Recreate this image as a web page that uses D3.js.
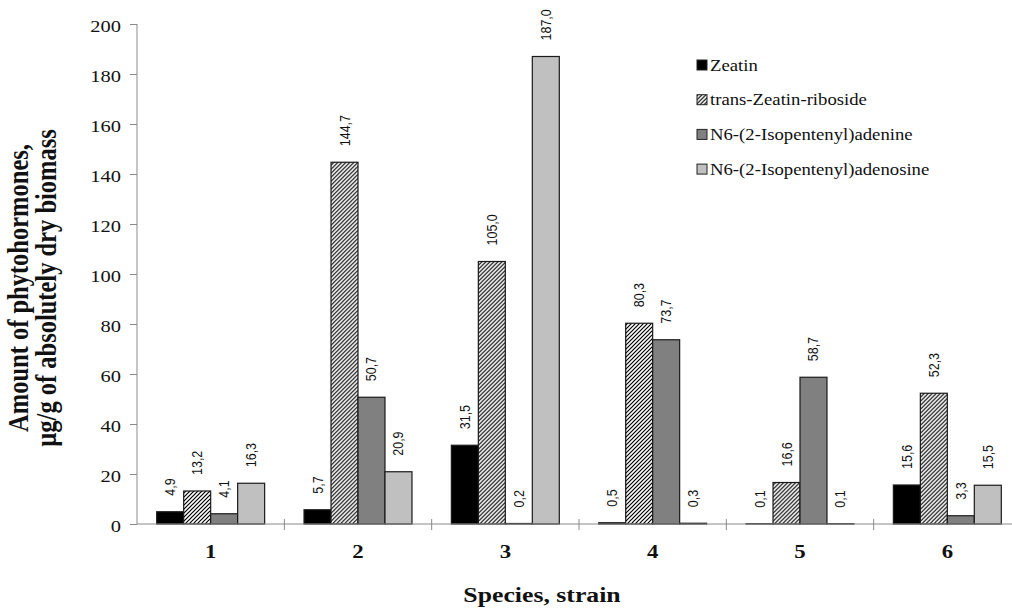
<!DOCTYPE html>
<html>
<head>
<meta charset="utf-8">
<script src="https://cdn.jsdelivr.net/npm/d3@7"></script>
<style>
  html, body { margin: 0; padding: 0; background: #fff; }
  svg { display: block; }
</style>
</head>
<body>
<svg id="chart" width="1012" height="608"></svg>
<script>
const categories = ["1", "2", "3", "4", "5", "6"];
const seriesNames = ["Zeatin", "trans-Zeatin-riboside", "N6-(2-Isopentenyl)adenine", "N6-(2-Isopentenyl)adenosine"];
const zeatin = [4.9, 5.7, 31.5, 0.5, 0.1, 15.6];
const transZeatinRiboside = [13.2, 144.7, 105.0, 80.3, 16.6, 52.3];
const isopentenylAdenine = [4.1, 50.7, 0.2, 73.7, 58.7, 3.3];
const isopentenylAdenosine = [16.3, 20.9, 187.0, 0.3, 0.1, 15.5];
const yTicks = [0, 20, 40, 60, 80, 100, 120, 140, 160, 180, 200];
const xTitle = "Species, strain";
const yTitleLines = ["Amount of phytohormones,", "\u00b5g/g of absolutely dry biomass"];

(function () {
const seriesValues = [zeatin, transZeatinRiboside, isopentenylAdenine, isopentenylAdenosine];
const fills = ["#000000", "url(#hatch)", "#808080", "#c0c0c0"];
const serif = "'Liberation Serif', 'Times New Roman', serif";
const sans = "'Liberation Sans', Arial, sans-serif";
const sx = 1.17; // horizontal stretch seen in the reference text

const svg = d3.select("#chart");
const defs = svg.append("defs");
const pat = defs.append("pattern")
  .attr("id", "hatch").attr("patternUnits", "userSpaceOnUse")
  .attr("width", 4).attr("height", 4);
pat.append("rect").attr("width", 4).attr("height", 4).attr("fill", "#fff");
pat.append("path").attr("d", "M-1,1 l2,-2 M0,4 l4,-4 M3,5 l2,-2")
  .attr("stroke", "#000").attr("stroke-width", 1.2);

const mLeft = 137, mRight = 1021, mTop = 24, mBottom = 524;
const x0 = d3.scaleBand().domain(categories).range([mLeft, mRight]).padding(0);
const x1 = d3.scaleBand().domain(d3.range(seriesNames.length))
  .range([0, x0.bandwidth()]).paddingInner(0).paddingOuter(0.73);
const y = d3.scaleLinear().domain([0, 200]).range([mBottom, mTop]);

const axisColor = "#8a8a8a";

// Y axis
const yAxis = svg.append("g").attr("transform", `translate(${mLeft},0)`)
  .call(d3.axisLeft(y).tickValues(yTicks).tickSize(7).tickPadding(8).tickFormat(d3.format("d")));
yAxis.select(".domain").attr("stroke", axisColor).attr("d", `M0,${mTop}V${mBottom}`);
yAxis.selectAll(".tick line").attr("stroke", axisColor);
yAxis.selectAll(".tick text")
  .attr("x", null).attr("dy", null)
  .attr("transform", `translate(-16,7.5) scale(${sx},1)`)
  .attr("font-family", serif)
  .attr("font-size", 17.5).attr("fill", "#111");

// Bars
const groups = svg.append("g").selectAll("g").data(categories).join("g")
  .attr("transform", d => `translate(${x0(d)},0)`);

groups.selectAll("rect")
  .data((c, ci) => seriesValues.map((vals, si) => ({ si, v: vals[ci] })))
  .join("rect")
  .attr("x", d => x1(d.si))
  .attr("width", x1.bandwidth())
  .attr("y", d => y(d.v))
  .attr("height", d => y(0) - y(d.v))
  .attr("fill", d => fills[d.si])
  .attr("stroke", "#1a1a1a").attr("stroke-width", 1.2);

const fmt = v => d3.format(".1f")(v).replace(".", ",");
groups.selectAll("text.val")
  .data((c, ci) => seriesValues.map((vals, si) => ({ si, v: vals[ci] })))
  .join("text").attr("class", "val")
  .attr("transform", d => `translate(${x1(d.si) + x1.bandwidth() / 2 + 5},${y(d.v) - 16}) scale(1.12,1) rotate(-90)`)
  .attr("text-anchor", "start")
  .attr("font-family", sans)
  .attr("font-size", 12.5).attr("fill", "#111")
  .text(d => fmt(d.v));

// X axis
const xAxisG = svg.append("g").attr("transform", `translate(0,${mBottom})`);
xAxisG.append("path").attr("d", `M${mLeft},0H${mRight}`).attr("stroke", axisColor).attr("fill", "none");
xAxisG.selectAll("line.sep").data(categories.slice(1)).join("line").attr("class", "sep")
  .attr("x1", d => x0(d)).attr("x2", d => x0(d)).attr("y1", -5).attr("y2", 6)
  .attr("stroke", axisColor);
xAxisG.selectAll("text.cat").data(categories).join("text").attr("class", "cat")
  .attr("transform", d => `translate(${x0(d) + x0.bandwidth() / 2},34) scale(${sx},1)`)
  .attr("text-anchor", "middle")
  .attr("font-family", serif)
  .attr("font-weight", "bold").attr("font-size", 19.5).attr("fill", "#111")
  .text(d => d);

// Axis titles
svg.append("text").attr("transform", `translate(542,602) scale(${sx},1)`).attr("text-anchor", "middle")
  .attr("font-family", serif)
  .attr("font-weight", "bold").attr("font-size", 22).attr("fill", "#111")
  .text(xTitle);

const yt = svg.append("text").attr("transform", `scale(${sx},1) translate(0,288) rotate(-90)`)
  .attr("text-anchor", "middle")
  .attr("font-family", serif)
  .attr("font-weight", "bold").attr("font-size", 24.5).attr("fill", "#111");
yt.selectAll("tspan").data(yTitleLines).join("tspan")
  .attr("x", 0).attr("y", (d, i) => 24 + i * 24).text(d => d);

// Legend
const legend = svg.append("g").attr("transform", "translate(697,65)");
const li = legend.selectAll("g").data(seriesNames).join("g")
  .attr("transform", (d, i) => `translate(0,${i * 34.7})`);
li.append("rect").attr("x", 0).attr("y", -5).attr("width", 10).attr("height", 10)
  .attr("fill", (d, i) => fills[i]).attr("stroke", "#222").attr("stroke-width", 1);
li.append("text").attr("transform", `translate(13,5.5) scale(${sx},1)`)
  .attr("font-family", serif)
  .attr("font-size", 16).attr("fill", "#111")
  .text(d => d);
})();
</script>
</body>
</html>
